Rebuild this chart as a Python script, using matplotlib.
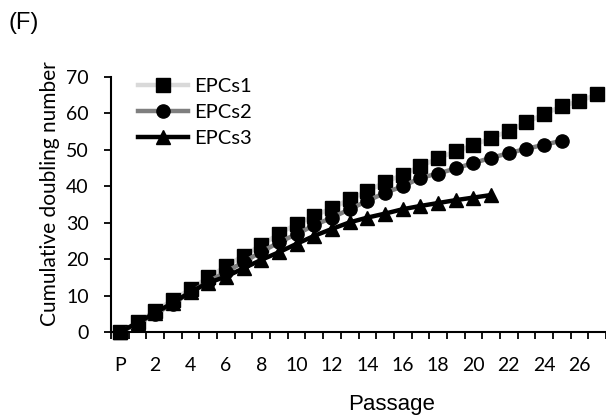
import numpy as np
import matplotlib
matplotlib.use('Agg')
import matplotlib.pyplot as plt
from matplotlib.ticker import FixedLocator

passage = list(range(28))  # P, 1..27
xlabels = ['P' if i == 0 else (str(i) if i % 2 == 0 else '') for i in passage]

epcs1 = [0, 2.7, 5.8, 8.8, 11.8, 15.0, 18.0, 21.0, 23.8, 27.0, 29.6, 31.9, 34.0, 36.4,
         38.7, 41.1, 43.2, 45.5, 47.7, 49.6, 51.3, 53.2, 55.2, 57.6, 59.8, 62.0, 63.4, 65.2]
epcs2 = [0, 2.3, 5.0, 7.7, 11.0, 13.8, 16.5, 19.2, 22.0, 24.6, 26.9, 29.3, 31.4, 33.7,
         36.0, 38.2, 40.0, 42.3, 43.5, 44.9, 46.4, 47.8, 49.1, 50.3, 51.4, 52.5]
epcs3 = [0, 2.5, 5.3, 8.0, 11.0, 13.5, 15.2, 17.5, 19.8, 21.9, 24.2, 26.4, 28.3, 30.1,
         31.4, 32.5, 33.7, 34.6, 35.4, 36.2, 36.9, 37.6]

calibri = ['Lato', 'DejaVu Sans']
arial = ['Liberation Sans', 'DejaVu Sans']

fig = plt.figure(figsize=(6.06, 4.15), dpi=100)
ax = fig.add_axes([111/606, 83/415, 495/606, 255/415])

ax.plot(passage[:len(epcs1)], epcs1, color='#d9d9d9', lw=3.2, marker='s', ms=9.5,
        mfc='black', mec='black', label='EPCs1', clip_on=False)
ax.plot(passage[:len(epcs2)], epcs2, color='#7f7f7f', lw=3.2, marker='o', ms=9.5,
        mfc='black', mec='black', label='EPCs2', clip_on=False)
ax.plot(passage[:len(epcs3)], epcs3, color='black', lw=3.2, marker='^', ms=10.5,
        mfc='black', mec='black', label='EPCs3', clip_on=False)

ax.set_xlim(-0.5, 27.5)
ax.set_ylim(0, 70)
ax.set_yticks(np.arange(0, 71, 10))
ax.set_xticks(passage)
ax.set_xticklabels(xlabels, fontfamily=calibri, fontsize=14)
ax.xaxis.set_minor_locator(FixedLocator(np.arange(-0.5, 27.6, 1)))
ax.tick_params(axis='x', which='major', length=0, pad=18)
ax.tick_params(axis='x', which='minor', length=5, width=1.3, direction='out')
ax.tick_params(axis='y', length=5, width=1.3, direction='out', pad=11)
for lab in ax.get_yticklabels():
    lab.set_fontfamily(calibri)
    lab.set_fontsize(14)

for s in ['top', 'right']:
    ax.spines[s].set_visible(False)
for s in ['left', 'bottom']:
    ax.spines[s].set_linewidth(1.5)

fig.text(50/606, 1 - 194/415, 'Cumulative doubling number', rotation=90,
         ha='center', va='center', fontfamily=calibri, fontsize=15)
fig.text(392/606, 1 - 404/415, 'Passage', ha='center', va='center',
         fontfamily=arial, fontsize=16)
fig.text(9/606, 1 - 23/415, '(F)', ha='left', va='center',
         fontfamily=arial, fontsize=17)

leg = ax.legend(loc='upper left', bbox_to_anchor=(138/606, 1 - 78/415),
                bbox_transform=fig.transFigure, frameon=False, borderpad=0,
                borderaxespad=0, handlelength=2.5, handletextpad=0.3,
                labelspacing=0.45, numpoints=1, prop={'family': calibri, 'size': 14.5})

fig.savefig('out.png', dpi=100)
